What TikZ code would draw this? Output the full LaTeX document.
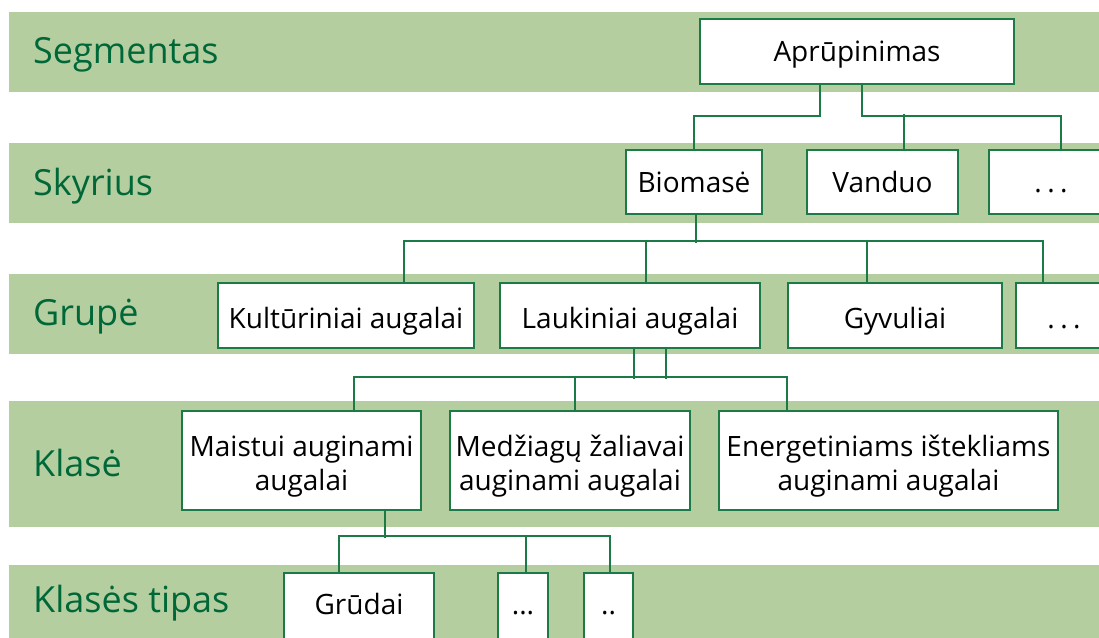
\documentclass[tikz,border=0pt]{standalone}
\usepackage{fontspec}
\setmainfont{Open Sans}
\usetikzlibrary{calc}
\definecolor{bandfill}{RGB}{181,206,160}
\definecolor{linegreen}{RGB}{28,122,70}
\definecolor{labelgreen}{RGB}{0,104,56}
% struts that fix the extent of two-line box texts
\newcommand\firstlinestrut{\rule{0pt}{33pt}}
\newcommand\lastlinestrut{\rule[-7pt]{0pt}{7pt}}
\begin{document}
\begin{tikzpicture}[x=1pt,y=-1pt,
  band/.style={fill=bandfill,draw=none},
  level/.style={anchor=base west,text=labelgreen,inner sep=0pt,
    font=\fontsize{36}{40}\selectfont},
  box/.style={draw=linegreen,line width=2.8pt,fill=white,inner sep=0pt,
    text=black,font=\fontsize{28}{34.5}\selectfont},
  one/.style={box,text height=20pt,text depth=0pt},
  grp/.style={box,text height=25pt,text depth=0pt},
  low/.style={box,text height=16pt,text depth=0pt},
  two/.style={box,align=center},
  link/.style={draw=linegreen,line width=2pt}]
\useasboundingbox (0,0) rectangle (1099,637);

% horizontal level bands
\fill[band] (9,12)  rectangle (1110,92);
\fill[band] (9,143) rectangle (1110,223);
\fill[band] (9,274) rectangle (1110,354);
\fill[band] (9,401) rectangle (1110,527);
\fill[band] (9,565) rectangle (1110,650);

% level names
\node[level] (lseg) at (33,63)  {Segmentas};
\node[level] (lsky) at (33,195) {Skyrius};
\node[level] (lgru) at (33,325) {Grupė};
\node[level] (lkla) at (33,476) {Klasė};
\node[level] (ltip) at (33,612) {Klasės tipas};

% segment
\node[one,minimum width=314pt,minimum height=65pt] (apr) at (857,51.5) {Aprūpinimas};

% sections
\node[one,minimum width=136pt,minimum height=64pt] (bio) at (694,182) {Biomasė};
\node[one,minimum width=151pt,minimum height=64pt] (van) at (882.5,182) {Vanduo};
\node[one,minimum width=124pt,minimum height=64pt] (sdots) at (1051,182) {.\kern5.5pt.\kern5.5pt.};

% groups
\node[grp,minimum width=256pt,minimum height=65pt] (kul) at (346,315.5) {Kultūriniai augalai};
\node[grp,minimum width=260pt,minimum height=65pt] (lau) at (630,315.5) {Laukiniai augalai};
\node[grp,minimum width=214pt,minimum height=65pt] (gyv) at (895,315.5) {Gyvuliai};
\node[grp,minimum width=96pt,minimum height=65pt] (gdots) at (1064,315.5) {.\kern5.5pt.\kern5.5pt.};

% classes
\node[two,minimum width=239pt,minimum height=99pt] (mai) at (301.5,460.5)
  {\firstlinestrut Maistui auginami\\augalai\lastlinestrut};
\node[two,minimum width=240pt,minimum height=99pt] (med) at (570,460.5)
  {\firstlinestrut Medžiagų žaliavai\\auginami augalai\lastlinestrut};
\node[two,minimum width=339pt,minimum height=99pt] (ene) at (888.5,460.5)
  {\firstlinestrut Energetiniams ištekliams\\auginami augalai\lastlinestrut};

% class types
\node[low,minimum width=150pt,minimum height=66pt] (grd) at (359,606) {Grūdai};
\node[low,minimum width=50pt,minimum height=66pt] (tdots) at (523,606) {...};
\node[low,minimum width=49pt,minimum height=66pt] (tdd) at (608.5,606) {..};

% segment -> sections
\draw[link] ($(apr.south)+(-37,0)$) -- ++(0,31) -| (bio.north);
\draw[link] ($(apr.south)+(5,0)$) -- ++(0,31) -| ($(sdots.north)+(10,0)$);
\draw[link] ($(van.north)+(21.5,0)$) -- ++(0,-35);

% section -> groups
\draw[link] ($(bio.south)+(2,0)$) -- ++(0,28);
\draw[link] ($(kul.north)+(58,0)$) -- ++(0,-41) -| ($(gdots.north)+(-21,0)$);
\draw[link] ($(lau.north)+(16,0)$) -- ++(0,-41);
\draw[link] ($(gyv.north)+(-28,0)$) -- ++(0,-41);

% group -> classes
\draw[link] ($(lau.south)+(4,0)$) -- ++(0,30);
\draw[link] ($(lau.south)+(36,0)$) -- ++(0,30);
\draw[link] ($(mai.north)+(52.5,0)$) -- ++(0,-33) -| ($(ene.north)+(-101.5,0)$);
\draw[link] ($(med.north)+(5,0)$) -- ++(0,-33);

% class -> class types
\draw[link] ($(mai.south)+(83,0)$) -- ++(0,27);
\draw[link] ($(grd.north)+(-20,0)$) -- ++(0,-36) -| ($(tdd.north)+(1.5,0)$);
\draw[link] ($(tdots.north)+(3,0)$) -- ++(0,-36);
\end{tikzpicture}
\end{document}
